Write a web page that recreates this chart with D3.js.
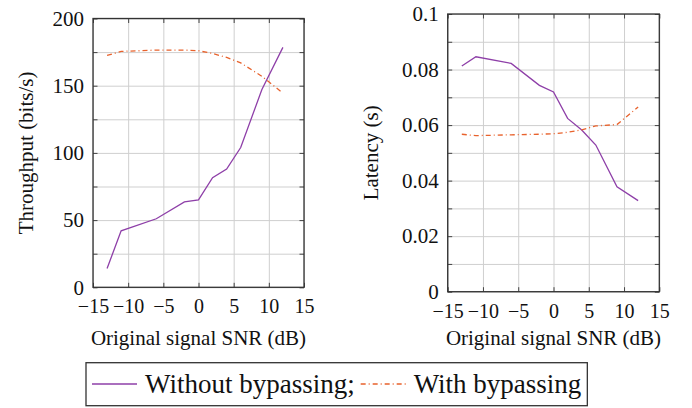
<!DOCTYPE html>
<html>
<head>
<meta charset="utf-8">
<script src="https://cdn.jsdelivr.net/npm/d3@7"></script>
<style>
  body { margin: 0; background: #fff; }
  svg { display: block; }
  text { font-family: "Liberation Serif", "DejaVu Serif", serif; fill: #111; }
</style>
</head>
<body>
<svg width="692" height="408"></svg>
<script>
// values
const snr = [-13, -11, -6, -2, 0, 2, 4, 6, 9, 12]
const thrWithout = [14, 42, 51, 63.5, 65, 81.5, 88, 104, 147, 178.5]
const thrWith = [172.5, 175.5, 176.5, 176.5, 176, 174, 171, 167, 157, 144.5]
const latWithout = [0.0813, 0.0846, 0.0822, 0.0743, 0.0719, 0.0624, 0.0582, 0.0528, 0.0378, 0.0328]
const latWith = [0.0567, 0.0562, 0.0565, 0.0567, 0.0569, 0.0574, 0.0583, 0.0597, 0.0602, 0.0665]

const xTicks = [-15, -10, -5, 0, 5, 10, 15]
const thrTicks = [0, 50, 100, 150, 200]
const thrGrid = [0, 25, 50, 75, 100, 125, 150, 175, 200]
const latTicks = [0, 0.02, 0.04, 0.06, 0.08, 0.1]
const latGrid = [0, 0.01, 0.02, 0.03, 0.04, 0.05, 0.06, 0.07, 0.08, 0.09, 0.1]

const seriesNames = ["Without bypassing;", "With bypassing"]
const colors = ["#8e3fa8", "#e8622c"]
const dashes = [null, "5,3,1,3"]

var svg = d3.select("svg")

const fmtX = d => String(d).replace("-", "\u2212")

function panel(opt) {
  const x = d3.scaleLinear().domain([-15, 15]).range([opt.left, opt.right])
  const y = d3.scaleLinear().domain(opt.ydom).range([opt.bottom, opt.top])
  const g = svg.append("g")

  // grid
  g.append("g")
    .attr("transform", `translate(0,${opt.bottom})`)
    .call(d3.axisBottom(x).tickValues(xTicks).tickSize(-(opt.bottom - opt.top)).tickFormat(""))
    .call(a => a.select(".domain").remove())
    .call(a => a.selectAll("line").attr("stroke", "#cfcfcf").attr("stroke-width", 1))
  g.append("g")
    .attr("transform", `translate(${opt.left},0)`)
    .call(d3.axisLeft(y).tickValues(opt.grid).tickSize(-(opt.right - opt.left)).tickFormat(""))
    .call(a => a.select(".domain").remove())
    .call(a => a.selectAll("line").attr("stroke", "#cfcfcf").attr("stroke-width", 1))

  // inward ticks on all four sides
  const tk = 4.5
  const sides = [
    [d3.axisBottom(x).tickValues(xTicks), `translate(0,${opt.bottom})`],
    [d3.axisTop(x).tickValues(xTicks), `translate(0,${opt.top})`],
    [d3.axisLeft(y).tickValues(opt.grid), `translate(${opt.left},0)`],
    [d3.axisRight(y).tickValues(opt.grid), `translate(${opt.right},0)`]
  ]
  sides.forEach(s => {
    g.append("g").attr("transform", s[1])
      .call(s[0].tickSize(-tk).tickFormat(""))
      .call(a => a.select(".domain").remove())
      .call(a => a.selectAll("line").attr("stroke", "#444").attr("stroke-width", 1))
  })

  // tick labels
  g.append("g")
    .attr("transform", `translate(0,${opt.bottom})`)
    .call(d3.axisBottom(x).tickValues(xTicks).tickSize(0).tickPadding(12).tickFormat(fmtX))
    .call(a => a.select(".domain").remove())
    .call(a => a.selectAll("text").attr("font-size", 20).attr("fill", "#111"))
  g.append("g")
    .attr("transform", `translate(${opt.left},0)`)
    .call(d3.axisLeft(y).tickValues(opt.ticks).tickSize(0).tickPadding(9).tickFormat(d => d === 0 ? "0" : String(d)))
    .call(a => a.select(".domain").remove())
    .call(a => a.selectAll("text").attr("font-size", 21).attr("fill", "#111"))

  // frame
  g.append("rect")
    .attr("x", opt.left).attr("y", opt.top)
    .attr("width", opt.right - opt.left).attr("height", opt.bottom - opt.top)
    .attr("fill", "none").attr("stroke", "#333").attr("stroke-width", 1.3)

  // lines
  const line = d3.line().x((d, i) => x(snr[i])).y(d => y(d))
  opt.series.forEach((vals, k) => {
    g.append("path")
      .datum(vals)
      .attr("d", line)
      .attr("fill", "none")
      .attr("stroke", colors[k])
      .attr("stroke-width", 1.3)
      .attr("stroke-dasharray", dashes[k])
  })

  // axis titles
  g.append("text")
    .attr("x", (opt.left + opt.right) / 2).attr("y", 345)
    .attr("text-anchor", "middle").attr("font-size", 21)
    .text("Original signal SNR (dB)")
  g.append("text")
    .attr("transform", `translate(${opt.ytx},${(opt.top + opt.bottom) / 2}) rotate(-90)`)
    .attr("text-anchor", "middle").attr("font-size", 21)
    .text(opt.ylabel)
}

panel({left: 93, right: 304, top: 18.5, bottom: 287.3, ydom: [0, 200],
  ticks: thrTicks, grid: thrGrid, series: [thrWithout, thrWith], ylabel: "Throughput (bits/s)", ytx: 33})
panel({left: 447.7, right: 659.3, top: 14, bottom: 291.7, ydom: [0, 0.1],
  ticks: latTicks, grid: latGrid, series: [latWithout, latWith], ylabel: "Latency (s)", ytx: 378})

// legend
const leg = svg.append("g")
const legTop = 362.7, legBot = 405.7
let cx = 92
seriesNames.forEach((name, k) => {
  leg.append("line")
    .attr("x1", cx).attr("x2", cx + 45)
    .attr("y1", 384).attr("y2", 384)
    .attr("stroke", colors[k]).attr("stroke-width", 1.3)
    .attr("stroke-dasharray", dashes[k])
  const t = leg.append("text")
    .attr("x", cx + 53).attr("y", 393)
    .attr("font-size", 27)
    .text(name)
  cx = cx + 53 + t.node().getComputedTextLength() + 6
})
leg.insert("rect", ":first-child")
  .attr("x", 86).attr("y", legTop)
  .attr("width", cx - 86).attr("height", legBot - legTop)
  .attr("fill", "#fff").attr("stroke", "#333").attr("stroke-width", 1.3)
</script>
</body>
</html>
